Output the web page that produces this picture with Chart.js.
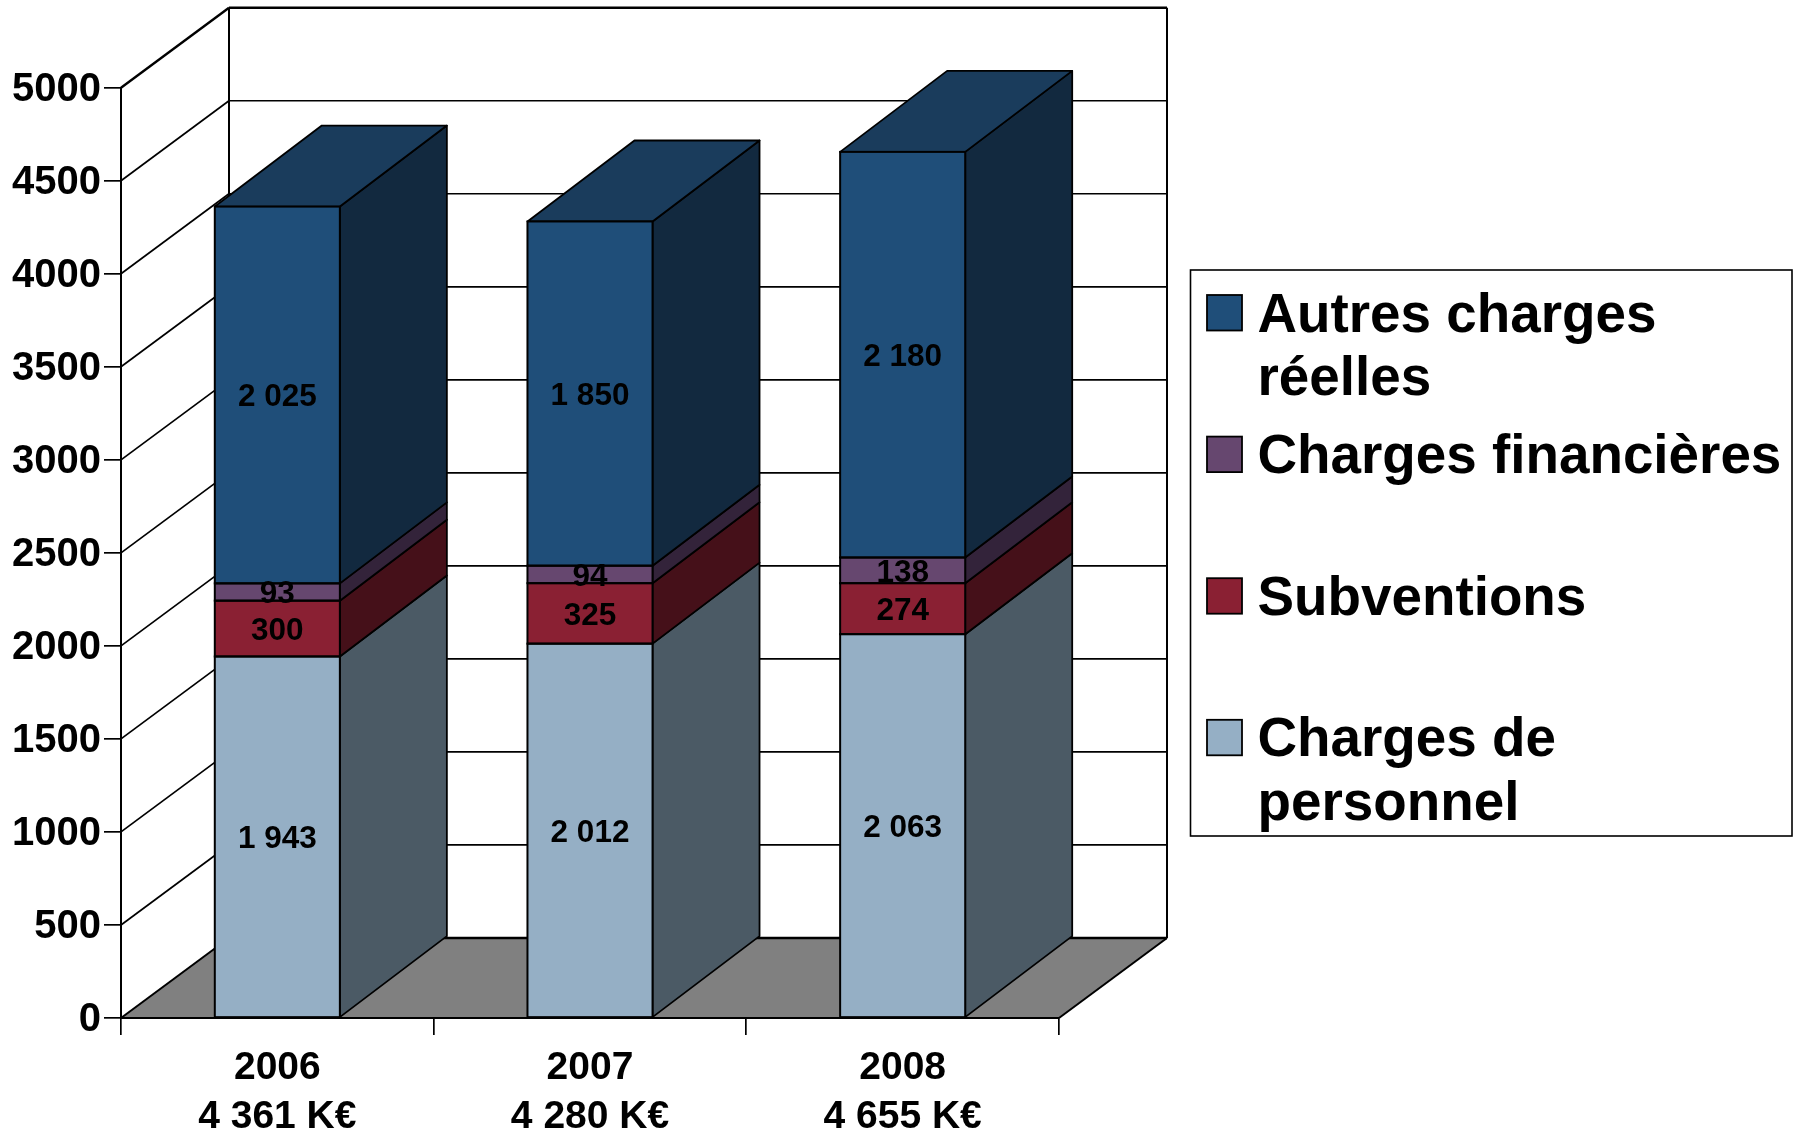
<!DOCTYPE html>
<html>
<head>
<meta charset="utf-8">
<title>Charges</title>
<script src="https://cdn.jsdelivr.net/npm/chart.js@4"></script>
<style>
  html, body { margin: 0; padding: 0; background: #fff; }
  canvas { display: block; }
</style>
</head>
<body>
<canvas id="chart" width="1800" height="1133"></canvas>
<script>
// donnees
const years = ['2006', '2007', '2008'];
const totals = ['4 361 K€', '4 280 K€', '4 655 K€'];
const personnel = [1943, 2012, 2063];
const subventions = [300, 325, 274];
const financieres = [93, 94, 138];
const autres = [2025, 1850, 2180];
const yMax = 5000;
const yStep = 500;

const FONT = '"Liberation Sans", Arial, sans-serif';
const wallDepth = { x: 108, y: 80 };
const barDepth = { x: 107, y: 81 };

const series = [
  { name: 'Charges de personnel', lines: ['Charges de', 'personnel'], data: personnel, front: '#95AFC5', side: '#4B5A65', top: '#6F8394' },
  { name: 'Subventions', lines: ['Subventions'], data: subventions, front: '#8A2033', side: '#451019', top: '#671826' },
  { name: 'Charges financières', lines: ['Charges financières'], data: financieres, front: '#66476F', side: '#33233A', top: '#4C3553' },
  { name: 'Autres charges réelles', lines: ['Autres charges', 'réelles'], data: autres, front: '#1F4E79', side: '#12293F', top: '#1A3C5C' }
];

function poly(ctx, pts, fill, stroke, width) {
  ctx.beginPath();
  pts.forEach((p, i) => i ? ctx.lineTo(p[0], p[1]) : ctx.moveTo(p[0], p[1]));
  ctx.closePath();
  if (fill) { ctx.fillStyle = fill; ctx.fill(); }
  if (stroke) { ctx.strokeStyle = stroke; ctx.lineWidth = width; ctx.stroke(); }
}

function line(ctx, x1, y1, x2, y2, width) {
  ctx.beginPath();
  ctx.moveTo(x1, y1);
  ctx.lineTo(x2, y2);
  ctx.strokeStyle = '#000';
  ctx.lineWidth = width;
  ctx.stroke();
}

// murs du fond, sol et lignes de grille
const wallsPlugin = {
  id: 'walls',
  beforeDraw(chart) {
    const ctx = chart.ctx;
    const a = chart.chartArea;
    const yScale = chart.scales.y;
    const dx = wallDepth.x, dy = wallDepth.y;
    ctx.save();
    ctx.fillStyle = '#fff';
    ctx.fillRect(0, 0, chart.width, chart.height);

    poly(ctx, [[a.left, a.bottom], [a.left + dx, a.bottom - dy], [a.right + dx, a.bottom - dy], [a.right, a.bottom]], '#808080');

    yScale.ticks.forEach(t => {
      const y = yScale.getPixelForValue(t.value);
      const w = t.value === yMax ? 2.4 : 1.7;
      line(ctx, a.left, y, a.left + dx, y - dy, t.value === 0 ? 2 : w);
      line(ctx, a.left + dx, y - dy, a.right + dx, y - dy, t.value === 0 ? 2.4 : w);
    });
    line(ctx, a.left + dx, a.top - dy, a.left + dx, a.bottom - dy, 2);
    line(ctx, a.right + dx, a.top - dy, a.right + dx, a.bottom - dy, 2);
    line(ctx, a.right, a.bottom, a.right + dx, a.bottom - dy, 2);
    ctx.restore();
  },
  // faces laterales et dessus des barres
  beforeDatasetsDraw(chart) {
    const ctx = chart.ctx;
    const dx = barDepth.x, dy = barDepth.y;
    ctx.save();
    ctx.lineJoin = 'round';
    series.forEach((s, i) => {
      chart.getDatasetMeta(i).data.forEach(bar => {
        const r = bar.x + bar.width / 2;
        const l = bar.x - bar.width / 2;
        poly(ctx, [[r, bar.y], [r + dx, bar.y - dy], [r + dx, bar.base - dy], [r, bar.base]], s.side, '#000', 1.8);
        if (i === series.length - 1) {
          poly(ctx, [[l, bar.y], [l + dx, bar.y - dy], [r + dx, bar.y - dy], [r, bar.y]], s.top, '#000', 1.8);
        }
      });
    });
    ctx.restore();
  },
  // contours et valeurs dans les barres
  afterDatasetsDraw(chart) {
    const ctx = chart.ctx;
    ctx.save();
    ctx.strokeStyle = '#000';
    ctx.lineWidth = 2;
    series.forEach((s, i) => {
      chart.getDatasetMeta(i).data.forEach(bar => {
        ctx.strokeRect(bar.x - bar.width / 2, bar.y, bar.width, bar.base - bar.y);
      });
    });
    ctx.fillStyle = '#000';
    ctx.font = 'bold 31.5px ' + FONT;
    ctx.textAlign = 'center';
    ctx.textBaseline = 'middle';
    series.forEach((s, i) => {
      chart.getDatasetMeta(i).data.forEach((bar, j) => {
        const txt = String(s.data[j]).replace(/\B(?=(\d{3})+$)/g, ' ');
        ctx.fillText(txt, bar.x, (bar.y + bar.base) / 2 + 2.5);
      });
    });
    ctx.restore();
  },
  // legende
  afterDraw(chart) {
    const ctx = chart.ctx;
    const box = { x: 1190.5, y: 270, w: 601.5, h: 566 };
    ctx.save();
    ctx.strokeStyle = '#000';
    ctx.lineWidth = 1.6;
    ctx.strokeRect(box.x, box.y, box.w, box.h);
    ctx.font = 'bold 54.8px ' + FONT;
    ctx.textAlign = 'left';
    ctx.textBaseline = 'alphabetic';
    series.slice().reverse().forEach((s, i) => {
      const top = 295 + i * 141.6;
      ctx.fillStyle = s.front;
      ctx.fillRect(1207, top, 35, 35.5);
      ctx.lineWidth = 1.8;
      ctx.strokeRect(1207, top, 35, 35.5);
      ctx.fillStyle = '#000';
      s.lines.forEach((t, k) => ctx.fillText(t, 1257.5, top + 36.5 + k * 63.5));
    });
    ctx.restore();
  }
};

new Chart(document.getElementById('chart'), {
  type: 'bar',
  data: {
    labels: years.map((y, i) => [y, totals[i]]),
    datasets: series.map(s => ({
      label: s.name,
      data: s.data,
      backgroundColor: s.front,
      borderWidth: 0,
      inflateAmount: 0,
      barPercentage: 0.4,
      categoryPercentage: 1
    }))
  },
  options: {
    responsive: false,
    animation: false,
    layout: { padding: { top: 87.7, right: 741, left: 0, bottom: 0 } },
    plugins: { legend: { display: false }, tooltip: { enabled: false } },
    scales: {
      x: {
        stacked: true,
        afterFit(scale) { scale.height = 115; },
        grid: { drawOnChartArea: false, color: '#000', lineWidth: 1.7, tickLength: 17 },
        border: { display: true, color: '#000', width: 2 },
        ticks: {
          color: '#000',
          font: { family: FONT, size: 39, weight: 'bold', lineHeight: 1.26 },
          maxRotation: 0,
          autoSkip: false,
          padding: 9
        }
      },
      y: {
        stacked: true,
        min: 0,
        max: yMax,
        afterFit(scale) { scale.width = 121; },
        grid: { drawOnChartArea: false, color: '#000', lineWidth: 1.7, tickLength: 17 },
        border: { display: true, color: '#000', width: 2 },
        ticks: {
          color: '#000',
          stepSize: yStep,
          callback: v => String(v),
          font: { family: FONT, size: 40, weight: 'bold' },
          padding: 3,
          labelOffset: 2
        }
      }
    }
  },
  plugins: [wallsPlugin]
});
</script>
</body>
</html>
